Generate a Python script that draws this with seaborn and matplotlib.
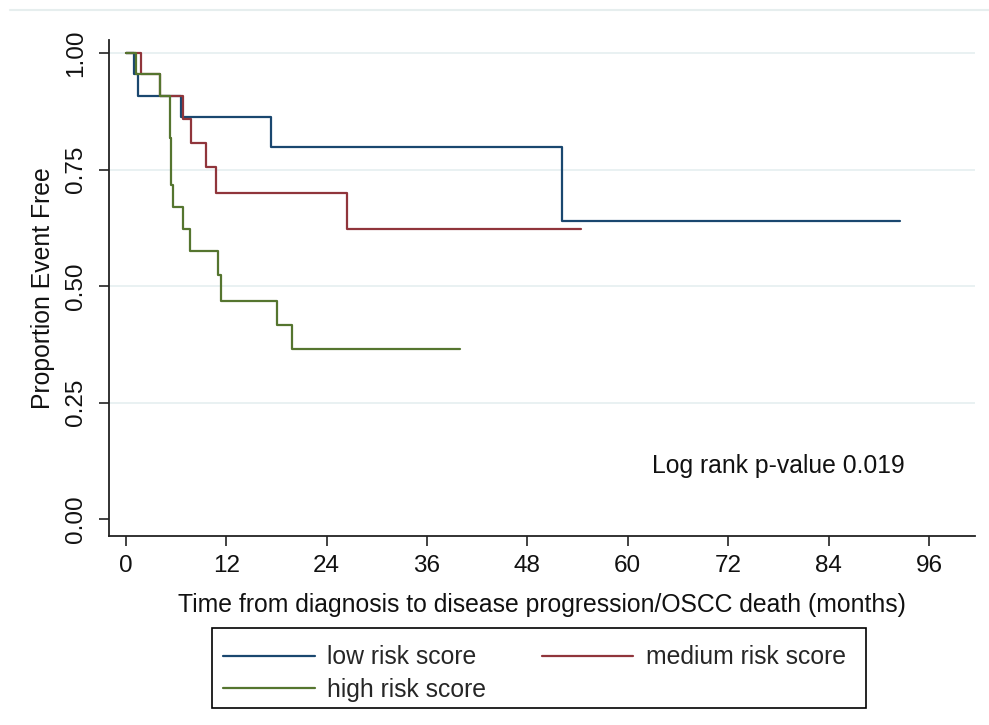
import numpy as np
import pandas as pd
import matplotlib
matplotlib.use("Agg")
import matplotlib.pyplot as plt
import seaborn as sns
from matplotlib.lines import Line2D
from matplotlib.patches import Rectangle

# ---- data (Kaplan-Meier step curves) ----
groups = ["low risk score", "medium risk score", "high risk score"]
low_time = [0, 0.93, 1.41, 6.64, 17.4, 52.2, 92.5]
low_surv = [1.0, 0.955, 0.909, 0.863, 0.799, 0.641, 0.641]
med_time = [0, 1.85, 4.04, 6.83, 7.83, 9.63, 10.83, 26.4, 54.4]
med_surv = [1.0, 0.955, 0.909, 0.859, 0.807, 0.756, 0.700, 0.623, 0.623]
high_time = [0, 1.17, 4.04, 5.24, 5.44, 5.64, 6.83, 7.63, 11.02, 11.42, 18.12, 19.87, 40.0]
high_surv = [1.0, 0.956, 0.909, 0.818, 0.717, 0.670, 0.622, 0.576, 0.524, 0.468, 0.417, 0.365, 0.365]
xticks = [0, 12, 24, 36, 48, 60, 72, 84, 96]
yticks = [0.00, 0.25, 0.50, 0.75, 1.00]
annotation = "Log rank p-value 0.019"
annot_pos = (62.9, 0.114)

colors = {"low risk score": "#1a476f", "medium risk score": "#90353b", "high risk score": "#55752f"}

df = pd.concat([
    pd.DataFrame({"time": low_time, "surv": low_surv, "group": groups[0]}),
    pd.DataFrame({"time": med_time, "surv": med_surv, "group": groups[1]}),
    pd.DataFrame({"time": high_time, "surv": high_surv, "group": groups[2]}),
], ignore_index=True)

sns.set_theme(style="white")
plt.rcParams["font.family"] = ["Liberation Sans", "DejaVu Sans"]
FS = 17.8
TFS = 17.5

fig = plt.figure(figsize=(9.89, 7.25), dpi=100)
W, H = 989, 725
ax = fig.add_axes([109 / W, 1 - 536 / H, 866 / W, 496 / H])

# gridlines (not at 0)
for yv in yticks[1:]:
    ax.axhline(yv, color="#e9f1f2", lw=1.4, zorder=0)

sns.lineplot(data=df, x="time", y="surv", hue="group", hue_order=groups,
             palette=colors, drawstyle="steps-post", estimator=None, sort=False,
             lw=1.6, ax=ax, legend=False)

ax.set_xlim(-2, 101.5)
ax.set_ylim(-0.036, 1.0285)
ax.set_xticks(xticks)
ax.set_xticklabels([str(v) for v in xticks])
ax.set_yticks(yticks)
ax.set_yticklabels([f"{v:.2f}" for v in yticks])

for s in ["top", "right"]:
    ax.spines[s].set_visible(False)
for s in ["left", "bottom"]:
    ax.spines[s].set_color("#222222")
    ax.spines[s].set_linewidth(1.3)

ax.tick_params(axis="both", direction="out", length=7, width=1.2, color="#222222",
               labelsize=TFS, labelcolor="#111111")
ax.tick_params(axis="x", pad=7, bottom=True)
ax.tick_params(axis="y", pad=9, left=True)
for lab in ax.get_yticklabels():
    lab.set_rotation(90)
    lab.set_va("center")

ax.set_xlabel("Time from diagnosis to disease progression/OSCC death (months)", fontsize=FS, color="#111111")
ax.set_ylabel("Proportion Event Free", fontsize=FS, color="#111111")
ax.xaxis.set_label_coords(0.5, -0.115)
ax.yaxis.set_label_coords(-0.062, 0.5)

ax.text(annot_pos[0], annot_pos[1], annotation, fontsize=FS, va="center", ha="left", color="#111111")

handles = [Line2D([0], [0], color=colors[g], lw=1.6) for g in [groups[0], groups[2], groups[1]]]
labels = [groups[0], groups[2], groups[1]]
leg = fig.legend(handles, labels, ncol=2, loc="upper left", mode="expand",
                 bbox_to_anchor=(211 / W, 1 - 713 / H, 647 / W, 80 / H), borderaxespad=0,
                 frameon=False, handlelength=3.7, handletextpad=0.5,
                 columnspacing=2.0, borderpad=0.5, labelspacing=0.33, fontsize=FS)

# legend frame (Stata style box)
fig.add_artist(Rectangle((212 / W, 1 - 708 / H), 654 / W, 80 / H, transform=fig.transFigure,
                         fill=False, edgecolor="black", lw=1.2))

fig.add_artist(Line2D([10 / W, 1], [1 - 10 / H, 1 - 10 / H], color="#e6eeee", lw=1.5))

fig.savefig("out.png", dpi=100, facecolor="white")
